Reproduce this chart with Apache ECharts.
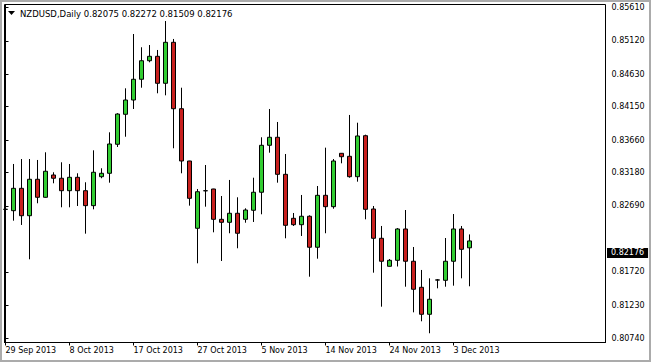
<!DOCTYPE html>
<html><head><meta charset="utf-8">
<script src="https://cdn.jsdelivr.net/npm/echarts@6/dist/echarts.min.js"></script>
<style>html,body{margin:0;padding:0;background:#fff}#c{width:651px;height:362px}</style>
</head><body><div id="c"></div>
<script>
const symbolTitle = 'NZDUSD,Daily';
const dates = ['2013.09.29','2013.09.30','2013.10.01','2013.10.02','2013.10.03','2013.10.04','2013.10.06','2013.10.07','2013.10.08','2013.10.09',
'2013.10.10','2013.10.11','2013.10.13','2013.10.14','2013.10.15','2013.10.16','2013.10.17','2013.10.18','2013.10.20','2013.10.21',
'2013.10.22','2013.10.23','2013.10.24','2013.10.25','2013.10.27','2013.10.28','2013.10.29','2013.10.30','2013.10.31','2013.11.01',
'2013.11.03','2013.11.04','2013.11.05','2013.11.06','2013.11.07','2013.11.08','2013.11.10','2013.11.11','2013.11.12','2013.11.13',
'2013.11.14','2013.11.15','2013.11.17','2013.11.18','2013.11.19','2013.11.20','2013.11.21','2013.11.22','2013.11.24','2013.11.25',
'2013.11.26','2013.11.27','2013.11.28','2013.11.29','2013.12.01','2013.12.02','2013.12.03','2013.12.04','2013.12.05'];
const opens = [0.82640,0.82621,0.82950,0.82547,0.83083,0.82818,0.83146,0.83098,0.82915,0.83112,
0.82915,0.82695,0.83121,0.83171,0.83598,0.84039,0.84249,0.84554,0.84827,0.84892,
0.84495,0.85098,0.84121,0.83352,0.82362,0.82913,0.82940,0.82494,0.82450,0.82583,
0.82494,0.82627,0.82892,0.83583,0.83701,0.83156,0.82509,0.82415,0.82539,0.82083,
0.82847,0.82680,0.83465,0.83421,0.83121,0.83724,0.82646,0.82215,0.81803,0.81891,
0.82352,0.81877,0.81494,0.81097,0.81600,0.81597,0.81877,0.82352,0.82075];
const highs = [0.82720,0.83308,0.83381,0.83381,0.83367,0.83480,0.83186,0.83333,0.83308,0.83171,
0.83039,0.83509,0.83245,0.83774,0.84055,0.84421,0.85220,0.85025,0.85058,0.84985,
0.85411,0.85147,0.84430,0.83355,0.82940,0.83293,0.82943,0.82837,0.83073,0.82818,
0.82656,0.83106,0.83701,0.84117,0.83926,0.83455,0.82587,0.82852,0.82553,0.82984,
0.83548,0.83381,0.83468,0.84029,0.83915,0.83739,0.82690,0.82396,0.81910,0.82366,
0.82631,0.82087,0.81749,0.81626,0.81616,0.82219,0.82572,0.82396,0.82272];
const lows = [0.82484,0.82474,0.82411,0.81906,0.82730,0.82812,0.83024,0.82671,0.82671,0.82690,
0.82283,0.82641,0.83098,0.83033,0.83558,0.83709,0.84117,0.84430,0.84804,0.84348,
0.84318,0.83539,0.83171,0.82695,0.81847,0.82680,0.82303,0.81881,0.82289,0.82068,
0.82444,0.82455,0.82568,0.83474,0.83033,0.82215,0.82396,0.82249,0.81650,0.81915,
0.82289,0.82650,0.83318,0.83106,0.83048,0.82494,0.81709,0.81209,0.81800,0.81800,
0.81503,0.81126,0.80994,0.80818,0.81479,0.81503,0.81518,0.81626,0.81509];
const closes = [0.82642,0.82950,0.82547,0.83083,0.82818,0.83201,0.83098,0.82915,0.83112,0.82915,
0.82695,0.83186,0.83171,0.83602,0.84043,0.84249,0.84554,0.84827,0.84892,0.84495,
0.85098,0.84121,0.83352,0.82803,0.82900,0.82915,0.82494,0.82450,0.82583,0.82289,
0.82631,0.82892,0.83583,0.83701,0.83156,0.82406,0.82415,0.82539,0.82083,0.82847,
0.82680,0.83352,0.83415,0.83121,0.83720,0.82641,0.82215,0.81877,0.81891,0.82352,
0.81877,0.81465,0.81097,0.81318,0.81603,0.81877,0.82352,0.82053,0.82176];
const yTickValues = [0.85610,0.85120,0.84630,0.84150,0.83660,0.83180,0.82690,0.81720,0.81230,0.80740];
const xTickIndex = [0,8,16,24,32,40,48,56];
const xTickLabels = ['29 Sep 2013','8 Oct 2013','17 Oct 2013','27 Oct 2013','5 Nov 2013','14 Nov 2013','24 Nov 2013','3 Dec 2013'];

const FONT = '"DejaVu Sans", Tahoma, sans-serif';
const last = dates.length - 1;
const lastFmt = v => v.toFixed(5);
const titleText = symbolTitle + ' ' + [opens[last], highs[last], lows[last], closes[last]].map(lastFmt).join(' ');
const data = dates.map((d, i) => [i, opens[i], closes[i], lows[i], highs[i]]);

const chart = echarts.init(document.getElementById('c'), null, {renderer: 'svg'});
chart.setOption({
  animation: false,
  backgroundColor: '#fff',
  title: {
    text: titleText, left: 20, top: 9, padding: 0,
    textStyle: {fontSize: 8.5, fontFamily: FONT, fontWeight: 'normal', color: '#000'}
  },
  grid: {left: 4.5, top: 4.5, width: 601, height: 338, show: true, borderColor: '#000', borderWidth: 1, backgroundColor: '#fff'},
  xAxis: {
    type: 'value', min: -0.125, max: 75,
    axisLine: {show: true, lineStyle: {color: '#000', width: 1}},
    axisTick: {show: true, length: 3, customValues: xTickIndex, lineStyle: {color: '#000'}},
    axisLabel: {
      customValues: xTickIndex,
      formatter: v => { const k = xTickIndex.indexOf(Math.round(v)); return k >= 0 ? xTickLabels[k] : ''; },
      align: 'left', margin: 4, fontSize: 8, fontFamily: FONT, color: '#000'
    },
    splitLine: {show: false}
  },
  yAxis: {
    type: 'value', position: 'right', min: 0.80682, max: 0.85654,
    axisLine: {show: true, lineStyle: {color: '#000', width: 1}},
    axisTick: {show: true, length: 3, customValues: yTickValues, lineStyle: {color: '#000'}},
    axisLabel: {customValues: yTickValues, formatter: v => v.toFixed(5), margin: 6, fontSize: 8, fontFamily: FONT, color: '#000'},
    splitLine: {show: false}
  },
  series: [{
    type: 'candlestick',
    data: data,
    encode: {x: 0, y: [1, 2, 3, 4]},
    barWidth: 4,
    clip: true,
    itemStyle: {color: '#32CD32', color0: '#C8201E', borderColor: '#000', borderColor0: '#000', borderWidth: 1},
    markLine: {
      silent: true, animation: false, symbol: ['none', 'none'],
      lineStyle: {color: 'rgba(0,0,0,0)', width: 0},
      label: {
        show: true, position: 'end', distance: 1.5,
        formatter: () => lastFmt(closes[last]),
        backgroundColor: '#000', color: '#fff', fontSize: 8, fontFamily: FONT, padding: [1, 4, 1, 4]
      },
      data: [{yAxis: closes[last]}]
    }
  }],
  graphic: [
    {type: 'polygon', z: 100, shape: {points: [[8, 11], [15, 11], [11.5, 15]]}, style: {fill: '#000'}},
    {type: 'rect', z: 100, shape: {x: 1, y: 1, width: 649, height: 360}, style: {fill: 'none', stroke: '#ABABAB', lineWidth: 2}}
  ]
});
</script>
</body></html>
